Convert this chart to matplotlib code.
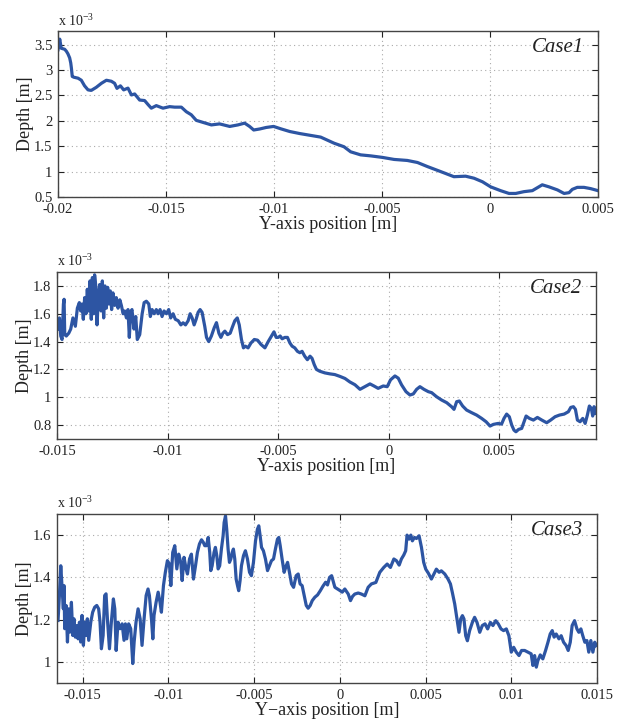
import numpy as np
import matplotlib
matplotlib.use("Agg")
import matplotlib.pyplot as plt
from matplotlib.ticker import FuncFormatter

plt.rcParams['font.family'] = ['Liberation Serif', 'DejaVu Serif']
plt.rcParams['mathtext.fontset'] = 'custom'
plt.rcParams['mathtext.rm'] = 'Liberation Serif'
plt.rcParams['axes.unicode_minus'] = False

# values are in mm (x position and depth), plotted in metres
case1_x = [-20.00, -19.92, -19.85, -19.69, -19.61, -19.54, -19.46, -19.41, -19.38, -19.34,
           -19.27, -19.07, -18.92, -18.77, -18.61, -18.46, -18.23, -17.99, -17.76, -17.53,
           -17.38, -17.27, -17.11, -16.96, -16.76, -16.60, -16.45, -16.22, -15.99, -15.83,
           -15.68, -15.45, -15.14, -14.83, -14.60, -14.29, -14.06, -13.83, -13.60, -13.29,
           -12.90, -12.52, -12.05, -11.67, -11.36, -11.13, -10.94, -10.66, -10.36, -10.02,
           -9.66, -9.27, -8.81, -7.84, -7.22, -6.76, -6.45, -5.99, -5.52, -4.98,
           -4.44, -3.83, -3.36, -2.90, -2.28, -1.67, -1.13, -0.74, -0.35, 0.03,
           0.49, 0.88, 1.19, 1.57, 1.96, 2.22, 2.42, 2.73, 3.12, 3.43,
           3.66, 3.81, 4.04, 4.35, 4.66, 5.00]
case1_d = [3.40, 3.61, 3.43, 3.41, 3.37, 3.32, 3.24, 3.14, 3.04, 2.875,
           2.86, 2.84, 2.80, 2.69, 2.61, 2.60, 2.66, 2.74, 2.80, 2.78,
           2.74, 2.64, 2.69, 2.61, 2.645, 2.51, 2.53, 2.41, 2.40, 2.32,
           2.25, 2.30, 2.25, 2.28, 2.27, 2.27, 2.18, 2.12, 2.01, 1.97,
           1.92, 1.94, 1.89, 1.92, 1.955, 1.89, 1.82, 1.84, 1.87, 1.89,
           1.84, 1.79, 1.75, 1.68, 1.56, 1.49, 1.39, 1.33, 1.31, 1.28,
           1.24, 1.22, 1.18, 1.10, 1.00, 0.90, 0.91, 0.87, 0.80, 0.70,
           0.625, 0.57, 0.57, 0.605, 0.625, 0.69, 0.74, 0.70, 0.64, 0.57,
           0.585, 0.65, 0.69, 0.69, 0.665, 0.625]

case2_x = [-14.95, -14.89, -14.83, -14.77, -14.71, -14.68, -14.65, -14.58, -14.47, -14.38,
           -14.28, -14.17, -14.08, -13.99, -13.93, -13.87, -13.81, -13.75, -13.69, -13.63,
           -13.57, -13.51, -13.45, -13.40, -13.34, -13.30, -13.24, -13.19, -13.13, -13.07,
           -13.01, -12.95, -12.89, -12.83, -12.77, -12.71, -12.65, -12.59, -12.53, -12.47,
           -12.39, -12.32, -12.24, -12.16, -12.09, -12.01, -11.94, -11.86, -11.79, -11.73,
           -11.67, -11.61, -11.52, -11.44, -11.37, -11.26, -11.15, -11.06, -10.96, -10.85,
           -10.78, -10.70, -10.61, -10.51, -10.43, -10.34, -10.25, -10.16, -10.05, -9.95,
           -9.86, -9.75, -9.65, -9.52, -9.40, -9.30, -9.19, -9.07, -8.98, -8.89,
           -8.80, -8.71, -8.62, -8.53, -8.44, -8.32, -8.24, -8.14, -8.02, -7.89,
           -7.79, -7.68, -7.59, -7.50, -7.41, -7.29, -7.17, -7.08, -6.96, -6.85,
           -6.76, -6.66, -6.57, -6.48, -6.36, -6.23, -6.08, -5.93, -5.78, -5.60,
           -5.45, -5.30, -5.19, -5.09, -5.00, -4.91, -4.82, -4.70, -4.58, -4.47,
           -4.37, -4.25, -4.13, -4.02, -3.92, -3.80, -3.68, -3.56, -3.47, -3.37,
           -3.27, -3.12, -2.89, -2.66, -2.44, -2.21, -1.98, -1.76, -1.53, -1.30,
           -1.08, -0.85, -0.67, -0.48, -0.25, -0.07, 0.08, 0.28, 0.43, 0.58,
           0.78, 0.96, 1.11, 1.26, 1.41, 1.59, 1.79, 1.94, 2.16, 2.39,
           2.62, 2.84, 2.95, 3.07, 3.19, 3.34, 3.52, 3.75, 3.97, 4.20,
           4.40, 4.58, 4.73, 4.95, 5.10, 5.21, 5.33, 5.45, 5.56, 5.66,
           5.75, 5.87, 6.01, 6.12, 6.21, 6.36, 6.54, 6.72, 6.92, 7.14,
           7.32, 7.52, 7.72, 7.93, 8.12, 8.23, 8.35, 8.44, 8.53, 8.65,
           8.77, 8.88, 8.98, 9.07, 9.16, 9.22, 9.28, 9.34, 9.37]
case2_d = [1.49, 1.57, 1.44, 1.415, 1.67, 1.704, 1.45, 1.44, 1.46, 1.49,
           1.57, 1.51, 1.64, 1.68, 1.62, 1.67, 1.56, 1.716, 1.60, 1.776,
           1.62, 1.836, 1.56, 1.86, 1.60, 1.88, 1.79, 1.52, 1.716, 1.81,
           1.62, 1.836, 1.57, 1.80, 1.64, 1.79, 1.67, 1.764, 1.63, 1.75,
           1.66, 1.716, 1.64, 1.70, 1.66, 1.60, 1.62, 1.57, 1.63, 1.43,
           1.61, 1.63, 1.49, 1.58, 1.415, 1.45, 1.60, 1.68, 1.69, 1.67,
           1.58, 1.63, 1.60, 1.63, 1.60, 1.63, 1.58, 1.62, 1.60, 1.63,
           1.57, 1.60, 1.56, 1.55, 1.52, 1.535, 1.52, 1.55, 1.60, 1.57,
           1.52, 1.56, 1.61, 1.63, 1.61, 1.51, 1.43, 1.40, 1.44, 1.50,
           1.536, 1.46, 1.43, 1.46, 1.475, 1.45, 1.46, 1.50, 1.55, 1.57,
           1.52, 1.415, 1.355, 1.367, 1.355, 1.39, 1.415, 1.41, 1.38, 1.355,
           1.40, 1.44, 1.47, 1.43, 1.43, 1.44, 1.42, 1.43, 1.43, 1.39,
           1.367, 1.355, 1.33, 1.32, 1.33, 1.295, 1.27, 1.295, 1.28, 1.235,
           1.20, 1.187, 1.175, 1.168, 1.163, 1.15, 1.135, 1.11, 1.09, 1.057,
           1.076, 1.096, 1.081, 1.064, 1.081, 1.076, 1.125, 1.153, 1.137, 1.089,
           1.04, 1.016, 1.024, 1.057, 1.076, 1.057, 1.04, 1.033, 1.004, 0.98,
           0.961, 0.932, 0.913, 0.968, 0.973, 0.937, 0.908, 0.889, 0.872, 0.848,
           0.824, 0.793, 0.805, 0.812, 0.807, 0.848, 0.879, 0.86, 0.80, 0.764,
           0.752, 0.769, 0.776, 0.824, 0.865, 0.848, 0.836, 0.855, 0.836, 0.817,
           0.836, 0.86, 0.872, 0.879, 0.896, 0.927, 0.932, 0.913, 0.836, 0.824,
           0.848, 0.812, 0.872, 0.937, 0.92, 0.865, 0.932, 0.92, 0.884]

case3_x = [-16.44, -16.36, -16.28, -16.21, -16.13, -16.09, -16.05, -15.97, -15.89, -15.82,
           -15.74, -15.66, -15.58, -15.51, -15.43, -15.35, -15.27, -15.19, -15.12, -15.04,
           -14.96, -14.88, -14.81, -14.73, -14.65, -14.53, -14.42, -14.30, -14.18, -14.07,
           -13.99, -13.91, -13.81, -13.72, -13.64, -13.56, -13.44, -13.33, -13.21, -13.13,
           -13.05, -12.94, -12.82, -12.70, -12.59, -12.51, -12.43, -12.32, -12.20, -12.08,
           -12.00, -11.89, -11.77, -11.65, -11.54, -11.42, -11.30, -11.19, -11.11, -10.99,
           -10.91, -10.84, -10.72, -10.60, -10.49, -10.41, -10.29, -10.18, -10.06, -9.94,
           -9.86, -9.75, -9.63, -9.51, -9.40, -9.28, -9.20, -9.09, -8.97, -8.89,
           -8.77, -8.66, -8.54, -8.42, -8.31, -8.19, -8.07, -7.96, -7.88, -7.78,
           -7.68, -7.59, -7.53, -7.45, -7.34, -7.26, -7.18, -7.10, -7.01, -6.91,
           -6.81, -6.75, -6.67, -6.60, -6.52, -6.44, -6.36, -6.28, -6.21, -6.13,
           -6.05, -5.97, -5.90, -5.82, -5.74, -5.62, -5.51, -5.39, -5.27, -5.16,
           -5.04, -4.92, -4.81, -4.73, -4.65, -4.57, -4.46, -4.34, -4.22, -4.11,
           -3.99, -3.87, -3.76, -3.64, -3.56, -3.48, -3.37, -3.25, -3.13, -3.05,
           -2.94, -2.82, -2.70, -2.55, -2.43, -2.32, -2.20, -2.08, -1.96, -1.85,
           -1.73, -1.61, -1.46, -1.30, -1.14, -0.99, -0.83, -0.72, -0.60, -0.48,
           -0.40, -0.29, -0.13, 0.02, 0.14, 0.29, 0.49, 0.62, 0.74, 0.87,
           1.07, 1.26, 1.46, 1.65, 1.84, 2.10, 2.33, 2.56, 2.76, 2.95,
           3.15, 3.30, 3.46, 3.59, 3.73, 3.84, 3.92, 4.04, 4.14, 4.23,
           4.35, 4.47, 4.62, 4.76, 4.89, 5.01, 5.16, 5.34, 5.49, 5.63,
           5.79, 5.92, 6.12, 6.31, 6.45, 6.56, 6.70, 6.83, 6.95, 7.05,
           7.15, 7.24, 7.34, 7.44, 7.57, 7.73, 7.86, 8.00, 8.16, 8.31,
           8.47, 8.62, 8.78, 8.93, 9.09, 9.24, 9.40, 9.55, 9.71, 9.86,
           10.00, 10.14, 10.29, 10.45, 10.60, 10.78, 10.97, 11.16, 11.26, 11.36,
           11.46, 11.55, 11.69, 11.84, 12.00, 12.14, 12.27, 12.39, 12.50, 12.62,
           12.78, 12.91, 13.05, 13.20, 13.32, 13.44, 13.55, 13.69, 13.83, 13.94,
           14.06, 14.17, 14.29, 14.41, 14.52, 14.64, 14.76, 14.87, 14.95]
case3_d = [1.196, 1.314, 1.455, 1.361, 1.251, 1.361, 1.157, 1.267, 1.094, 1.251,
           1.141, 1.282, 1.125, 1.204, 1.117, 1.172, 1.109, 1.188, 1.094, 1.22,
           1.078, 1.188, 1.125, 1.204, 1.102, 1.188, 1.235, 1.259, 1.267, 1.251,
           1.188, 1.062, 1.125, 1.314, 1.322, 1.204, 1.062, 1.188, 1.298, 1.251,
           1.054, 1.188, 1.157, 1.18, 1.102, 1.18, 1.109, 1.18, 1.157, 0.992,
           1.094, 1.188, 1.251, 1.204, 1.078, 1.204, 1.314, 1.345, 1.314, 1.204,
           1.109, 1.22, 1.282, 1.33, 1.282, 1.235, 1.361, 1.424, 1.479, 1.463,
           1.361, 1.518, 1.55, 1.44, 1.51, 1.471, 1.385, 1.495, 1.44, 1.416,
           1.487, 1.51, 1.392, 1.455, 1.518, 1.558, 1.578, 1.565, 1.55, 1.55,
           1.589, 1.518, 1.432, 1.455, 1.518, 1.542, 1.503, 1.44, 1.455, 1.534,
           1.597, 1.66, 1.691, 1.628, 1.534, 1.471, 1.487, 1.518, 1.534, 1.487,
           1.392, 1.361, 1.337, 1.385, 1.455, 1.503, 1.526, 1.487, 1.424, 1.408,
           1.471, 1.573, 1.628, 1.644, 1.597, 1.542, 1.526, 1.487, 1.432, 1.455,
           1.479, 1.487, 1.534, 1.581, 1.589, 1.55, 1.487, 1.424, 1.455, 1.471,
           1.424, 1.369, 1.353, 1.408, 1.416, 1.369, 1.361, 1.314, 1.267, 1.254,
           1.267, 1.29, 1.306, 1.317, 1.337, 1.358, 1.377, 1.364, 1.40, 1.408,
           1.385, 1.353, 1.345, 1.337, 1.33, 1.345, 1.321, 1.29, 1.31, 1.321,
           1.326, 1.321, 1.313, 1.353, 1.369, 1.376, 1.424, 1.447, 1.463, 1.447,
           1.487, 1.479, 1.458, 1.487, 1.506, 1.526, 1.60, 1.581, 1.60, 1.573,
           1.589, 1.584, 1.597, 1.542, 1.471, 1.439, 1.42, 1.392, 1.416, 1.439,
           1.424, 1.431, 1.416, 1.392, 1.369, 1.329, 1.274, 1.203, 1.14, 1.203,
           1.219, 1.203, 1.124, 1.10, 1.148, 1.187, 1.211, 1.187, 1.14, 1.172,
           1.18, 1.156, 1.187, 1.172, 1.195, 1.18, 1.156, 1.148, 1.156, 1.124,
           1.046, 1.069, 1.046, 1.03, 1.054, 1.054, 1.046, 1.038, 0.983, 1.03,
           0.975, 1.006, 1.033, 1.014, 1.054, 1.093, 1.132, 1.148, 1.117, 1.132,
           1.109, 1.124, 1.093, 1.077, 1.054, 1.093, 1.172, 1.195, 1.156, 1.14,
           1.156, 1.124, 1.093, 1.101, 1.046, 1.101, 1.046, 1.093, 1.077]

case_names = ['Case1', 'Case2', 'Case3']
xlabels = ['Y-axis position [m]', 'Y-axis position [m]', 'Y\u2212axis position [m]']
x_ticks = [[-0.02, -0.015, -0.01, -0.005, 0, 0.005],
           [-0.015, -0.01, -0.005, 0, 0.005],
           [-0.015, -0.01, -0.005, 0, 0.005, 0.01, 0.015]]
y_ticks = [[0.5, 1, 1.5, 2, 2.5, 3, 3.5],
           [0.8, 1, 1.2, 1.4, 1.6, 1.8],
           [1, 1.2, 1.4, 1.6]]
x_lims = [(-0.02, 0.005), (-0.015, 0.00937), (-0.0165, 0.015)]
y_lims = [(0.5, 3.77), (0.7, 1.9), (0.9, 1.7)]

series = [(case1_x, case1_d), (case2_x, case2_d), (case3_x, case3_d)]
# axes boxes in figure pixels: left, right, top, bottom
boxes = [(58, 598, 31, 197), (57, 596, 272, 439), (57, 597, 514, 683)]

W, H = 626, 727
fig = plt.figure(figsize=(W / 100, H / 100), dpi=100)
line_color = '#2D55A3'

for i in range(3):
    l, r, t, b = boxes[i]
    ax = fig.add_axes([l / W, (H - b) / H, (r - l) / W, (b - t) / H])
    xs, ds = series[i]
    ax.plot(np.array(xs) * 1e-3, np.array(ds) * 1e-3, color=line_color, lw=2.3,
            solid_joinstyle='round')
    ax.set_xlim(*x_lims[i])
    ax.set_ylim(y_lims[i][0] * 1e-3, y_lims[i][1] * 1e-3)
    ax.set_xticks(x_ticks[i])
    ax.set_yticks(np.array(y_ticks[i]) * 1e-3)
    ax.xaxis.set_major_formatter(FuncFormatter(lambda v, p: '%g' % round(v, 6)))
    ax.yaxis.set_major_formatter(FuncFormatter(lambda v, p: '%g' % round(v * 1e3, 6)))
    ax.grid(True, linestyle=(0, (1, 3)), color='#aaaaaa', linewidth=0.8)
    ax.tick_params(direction='in', top=True, right=True, length=4, width=0.8,
                   labelsize=10.5, colors='#222222', pad=4)
    for s in ax.spines.values():
        s.set_color('#444444')
        s.set_linewidth(1.0)
    ax.set_xlabel(xlabels[i], fontsize=13, labelpad=0, color='#222222')
    ax.set_ylabel('Depth [m]', fontsize=13, labelpad=0, color='#222222')
    ax.text(0.0, 1.015, 'x 10$^{-3}$', transform=ax.transAxes, ha='left', va='bottom',
            fontsize=10, color='#222222')
    ax.text(0.975, 0.90, case_names[i], transform=ax.transAxes, ha='right', va='center',
            fontsize=15, style='italic', color='#222222')

fig.savefig('out.png', dpi=100)
